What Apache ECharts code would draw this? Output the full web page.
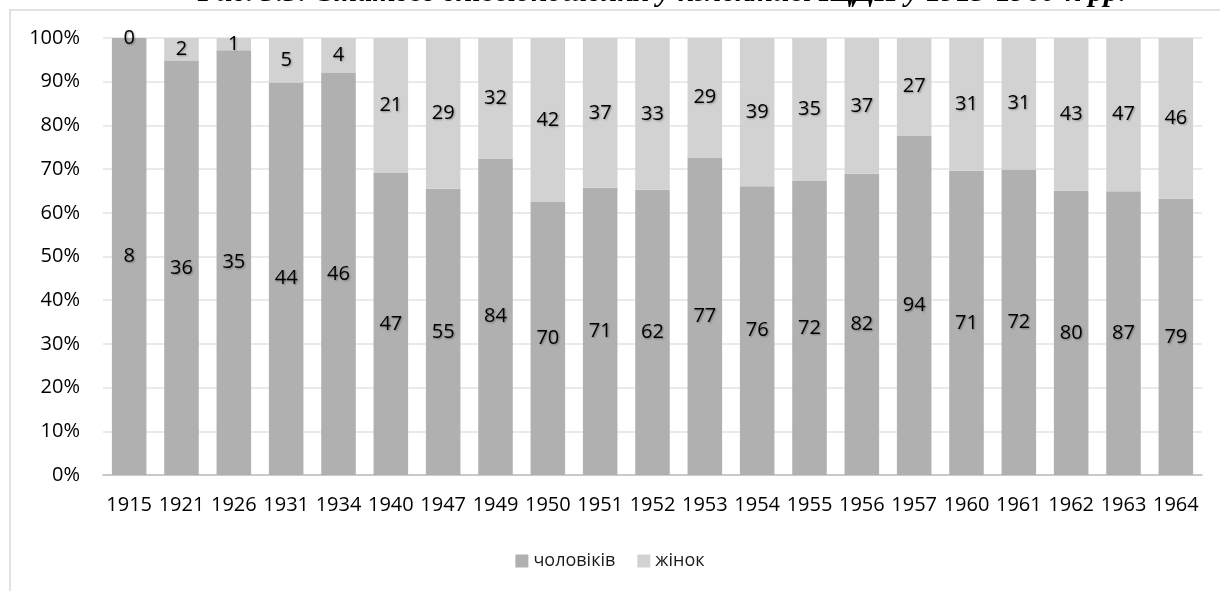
<!DOCTYPE html>
<html>
<head>
<meta charset="utf-8">
<script src="https://cdn.jsdelivr.net/npm/echarts@6/dist/echarts.min.js"></script>
<style>
  html, body { margin: 0; padding: 0; background: #fff; }
  #chart { width: 1220px; height: 591px; }
</style>
</head>
<body>
<div id="chart"></div>
<script>
// роки та кількість співробітників
const years = ['1915', '1921', '1926', '1931', '1934', '1940', '1947', '1949', '1950', '1951', '1952',
  '1953', '1954', '1955', '1956', '1957', '1960', '1961', '1962', '1963', '1964']
const men = [8, 36, 35, 44, 46, 47, 55, 84, 70, 71, 62, 77, 76, 72, 82, 94, 71, 72, 80, 87, 79]
const women = [0, 2, 1, 5, 4, 21, 29, 32, 42, 37, 33, 29, 39, 35, 37, 27, 31, 31, 43, 47, 46]
const titleText = 'Рис. 3.3. Статеве співвідношення у колективі ІЦДН у 1915-1960-х рр.'

const FONT = '"Open Sans", "Noto Sans", sans-serif'

// частки у відсотках (100% stacked)
const pct = (arr, i) => (arr[i] / (men[i] + women[i])) * 100
const menPct = men.map((v, i) => ({ value: pct(men, i), count: v }))
const womenPct = women.map((v, i) => ({ value: pct(women, i), count: v }))

const labelStyle = {
  show: true,
  position: 'inside',
  color: '#000',
  fontFamily: FONT,
  fontSize: 20,
  textShadowColor: 'rgba(0,0,0,0.35)',
  textShadowBlur: 2,
  textShadowOffsetX: 1,
  textShadowOffsetY: 1,
  formatter: p => p.data.count
}

const chart = echarts.init(document.getElementById('chart'))
chart.setOption({
  backgroundColor: '#fff',
  animation: false,
  graphic: [
    {
      type: 'rect',
      shape: { x: 10, y: 10, width: 1240, height: 620 },
      style: { fill: 'none', stroke: '#d9d9d9', lineWidth: 1.5 },
      silent: true
    },
    {
      // заголовок обрізаний зверху, як на рисунку
      type: 'text',
      x: 662,
      y: -7,
      silent: true,
      style: {
        text: titleText,
        align: 'center',
        verticalAlign: 'middle',
        font: 'italic bold 30px "Liberation Serif", "DejaVu Serif", serif',
        fill: '#000'
      }
    }
  ],
  legend: {
    bottom: 16,
    left: 'center',
    icon: 'rect',
    itemWidth: 13,
    itemHeight: 13,
    itemGap: 22,
    textStyle: { fontFamily: FONT, fontSize: 18, color: '#1a1a1a' },
    data: ['чоловіків', 'жінок']
  },
  grid: { left: 103, right: 18, top: 38, bottom: 116, containLabel: false },
  xAxis: {
    type: 'category',
    data: years,
    axisLine: { lineStyle: { color: '#bfbfbf', width: 1.5 } },
    axisTick: { show: false },
    axisLabel: { color: '#000', fontFamily: FONT, fontSize: 20, margin: 20, interval: 0 }
  },
  yAxis: {
    type: 'value',
    min: 0,
    max: 100,
    interval: 10,
    axisLine: { show: false },
    axisTick: { show: false },
    splitLine: { lineStyle: { color: '#e3e3e3', width: 1.5 } },
    axisLabel: { color: '#000', fontFamily: FONT, fontSize: 20, margin: 23, formatter: '{value}%' }
  },
  series: [
    {
      name: 'чоловіків',
      type: 'bar',
      stack: 'total',
      barWidth: '66%',
      itemStyle: { color: '#b0b0b0' },
      label: labelStyle,
      data: menPct
    },
    {
      name: 'жінок',
      type: 'bar',
      stack: 'total',
      barWidth: '66%',
      itemStyle: { color: '#d2d2d2' },
      label: labelStyle,
      data: womenPct
    }
  ]
})
</script>
</body>
</html>
